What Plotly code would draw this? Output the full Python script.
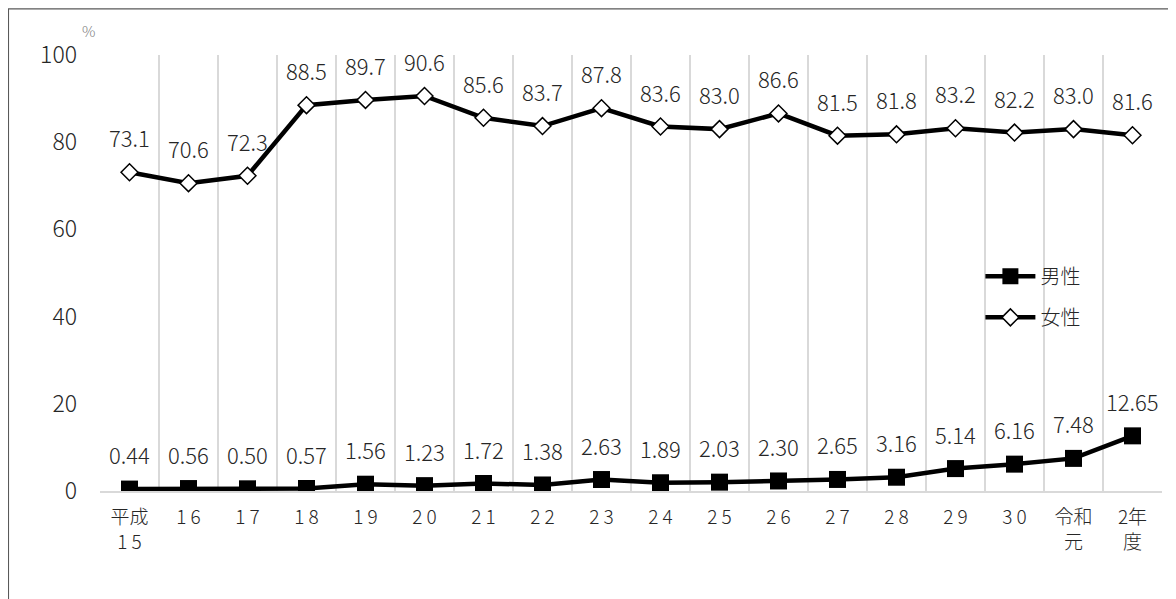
import plotly.graph_objects as go

categories = ["平成<br>1 5", "1 6", "1 7", "1 8", "1 9", "2 0", "2 1", "2 2", "2 3", "2 4",
              "2 5", "2 6", "2 7", "2 8", "2 9", "3 0", "令和<br>元", "2年<br>度"]
male = [0.44, 0.56, 0.50, 0.57, 1.56, 1.23, 1.72, 1.38, 2.63, 1.89,
        2.03, 2.30, 2.65, 3.16, 5.14, 6.16, 7.48, 12.65]
female = [73.1, 70.6, 72.3, 88.5, 89.7, 90.6, 85.6, 83.7, 87.8, 83.6,
          83.0, 86.6, 81.5, 81.8, 83.2, 82.2, 83.0, 81.6]
y_ticks = [0, 20, 40, 60, 80, 100]

FONT = "Noto Sans CJK JP"
W = 300
fig = go.Figure()
fig.add_trace(go.Scatter(
    x=categories, y=male, name="男性", mode="lines+markers", legendgroup="m",
    line=dict(color="black", width=4.5),
    marker=dict(symbol="square", size=17, color="black"),
))
fig.add_trace(go.Scatter(
    x=categories, y=female, name="女性", mode="lines+markers", legendgroup="f",
    line=dict(color="black", width=4.5),
    marker=dict(symbol="diamond", size=13, color="white", line=dict(color="black", width=1.5)),
))

ann = []
for c, v in zip(categories, male):
    ann.append(dict(x=c, y=v, xref="x", yref="y", text=f"{v:.2f}", showarrow=False,
                    yshift=35, font=dict(size=22, color="#262626", family=FONT, weight=W)))
for c, v in zip(categories, female):
    ann.append(dict(x=c, y=v, xref="x", yref="y", text=f"{v:.1f}", showarrow=False,
                    yshift=35, font=dict(size=22, color="#262626", family=FONT, weight=W)))
ann.append(dict(x=-0.011, y=1.057, xref="paper", yref="paper", text="%", showarrow=False,
                xanchor="center", yanchor="middle",
                font=dict(size=15, color="#7f7f7f", family=FONT, weight=W)))

fig.update_layout(
    width=1168, height=591,
    margin=dict(l=92, r=14, t=47, b=108),
    paper_bgcolor="white", plot_bgcolor="white",
    font=dict(family=FONT, color="#262626", weight=W),
    annotations=ann,
    showlegend=True,
    legend=dict(x=0.829, y=0.537, xanchor="left", yanchor="top",
                font=dict(size=20, family=FONT, color="#262626", weight=W),
                bgcolor="rgba(0,0,0,0)", tracegroupgap=12, itemwidth=50),
    shapes=[dict(type="rect", xref="paper", yref="paper",
                 x0=-0.0862, x1=1.03, y0=-0.30, y1=1.106,
                 line=dict(color="#595959", width=1.2), fillcolor="rgba(0,0,0,0)")],
)
fig.update_xaxes(
    type="category", tickson="boundaries", ticks="", showgrid=True,
    gridcolor="#d9d9d9", gridwidth=2, showline=True, linecolor="#d9d9d9", linewidth=2,
    tickfont=dict(size=19, family=FONT, color="#262626", weight=W), ticklabelstandoff=8,
    range=[-0.5, len(categories) - 0.5],
)
fig.update_yaxes(
    range=[0, 100], tickvals=y_ticks, showgrid=False, zeroline=False, showline=False,
    tickfont=dict(size=23, family=FONT, color="#262626", weight=W), ticklabelstandoff=22,
)
fig.write_html("out.html")
